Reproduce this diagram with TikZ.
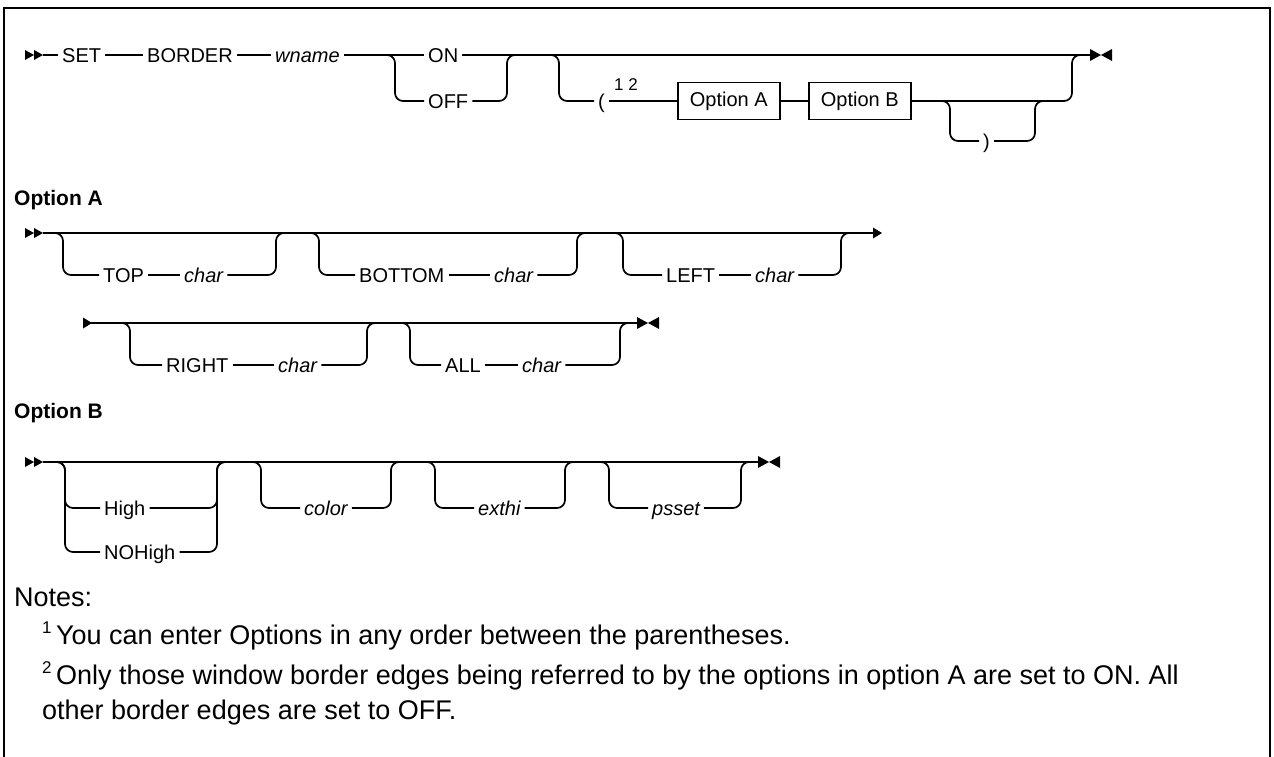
\documentclass[tikz,border=0pt]{standalone}
\usepackage{fontspec}
\setmainfont{Liberation Sans}
\tikzset{
  startmark/.pic={\fill (0,-5) -- (9,0) -- (0,5) -- cycle; \fill (9,-5) -- (18,0) -- (9,5) -- cycle;},
  contmark/.pic={\fill (0,-5.5) -- (9,0) -- (0,5.5) -- cycle;},
  endmark/.pic={\fill (0,-6) -- (11,0) -- (0,6) -- cycle; \fill (22,-6) -- (11,0) -- (22,6) -- cycle;},
}
\begin{document}
\begin{tikzpicture}[x=1pt,y=-1pt,
  ln/.style={line width=1.7pt},
  rr/.style={line width=1.7pt, rounded corners=8pt},
  lbl/.style={inner xsep=4pt, inner ysep=0pt, text height=14.5pt, text depth=0pt, anchor=west, font=\fontsize{20}{22}\selectfont},
  var/.style={lbl, font=\fontsize{20}{22}\selectfont\itshape},
  box/.style={draw, line width=1.6pt, anchor=west, minimum width=102pt, minimum height=37pt, inner sep=0pt, font=\fontsize{20}{22}\selectfont},
  head/.style={anchor=west, inner sep=0pt, font=\fontsize{21}{24}\selectfont\bfseries},
  note/.style={anchor=west, inner sep=0pt, font=\fontsize{27}{30}\selectfont},
  sup/.style={anchor=west, inner sep=0pt, font=\fontsize{17}{18}\selectfont},
]
\useasboundingbox (0,0) rectangle (1274,757);
\fill[white] (0,0) rectangle (1274,757);
% frame
\coordinate (fa) at (4,757); \coordinate (fb) at (4,8);
\coordinate (fc) at (1270,8); \coordinate (fd) at (1270,757);
\draw[line width=2.5pt] (fa) -- (fb) -- (fc) -- (fd);

% ---------------- Row 1 ----------------
\pic at (25,55) {startmark};
\coordinate (s1) at (43,55);
\node[lbl] (set) at (58,55) {SET};
\node[lbl] (border) at (143,55) {BORDER};
\node[var] (wname) at (271,55) {wname};
\node[lbl] (on) at (424,55) {ON};
\node[lbl] (off) at (424,101) {OFF};
\node[lbl] (lpar) at (594,101) {(};
\node[sup] (fn12) at (614,85) {1 2};
\node[box] (optA) at (677,101) {Option A};
\node[box] (optB) at (808,101) {Option B};
\node[lbl] (rpar) at (979,141) {)};
\coordinate (e1) at (1090,55);
\pic at (e1) {endmark};

\draw[ln] (s1) -- (set.west);
\draw[ln] (set.east) -- (border.west);
\draw[ln] (border.east) -- (wname.west);
\draw[ln] (wname.east) -- (on.west);
\draw[ln] (on.east) -- (e1);
\coordinate (c1a) at (381,55); \coordinate (c1b) at (395,101);
\coordinate (c1c) at (507,101); \coordinate (c1d) at (521,55);
\draw[rr] (c1a) -| (c1b) -- (off.west);
\draw[rr] (off.east) -- (c1c) |- (c1d);
\coordinate (c2a) at (545,55); \coordinate (c2b) at (559,101);
\coordinate (c2c) at (1072,101); \coordinate (c2d) at (1086,55);
\draw[rr] (c2a) -| (c2b) -- (lpar.west);
\draw[ln] (lpar.east) -- (optA.west);
\draw[ln] (optA.east) -- (optB.west);
\draw[rr] (optB.east) -- (c2c) |- (c2d);
\coordinate (c3a) at (936,101); \coordinate (c3b) at (950,141);
\coordinate (c3c) at (1035,141); \coordinate (c3d) at (1049,101);
\draw[rr] (c3a) -| (c3b) -- (rpar.west);
\draw[rr] (rpar.east) -- (c3c) |- (c3d);

% ---------------- Option A ----------------
\node[head] (hA) at (14,200) {Option A};
\pic at (25,233) {startmark};
\coordinate (s2) at (43,233);
\coordinate (e2) at (873,233);
\pic at (e2) {contmark};
\draw[ln] (s2) -- (e2);
% TOP
\node[lbl] (top) at (99,275) {TOP};
\node[var] (ch1) at (180,275) {char};
\coordinate (a1) at (49,233); \coordinate (a2) at (63,275);
\coordinate (a3) at (276,275); \coordinate (a4) at (290,233);
\draw[rr] (a1) -| (a2) -- (top.west);
\draw[ln] (top.east) -- (ch1.west);
\draw[rr] (ch1.east) -- (a3) |- (a4);
% BOTTOM
\node[lbl] (bottom) at (355,275) {BOTTOM};
\node[var] (ch2) at (490,275) {char};
\coordinate (b1) at (305,233); \coordinate (b2) at (319,275);
\coordinate (b3) at (577,275); \coordinate (b4) at (591,233);
\draw[rr] (b1) -| (b2) -- (bottom.west);
\draw[ln] (bottom.east) -- (ch2.west);
\draw[rr] (ch2.east) -- (b3) |- (b4);
% LEFT
\node[lbl] (left) at (662,275) {LEFT};
\node[var] (ch3) at (751,275) {char};
\coordinate (d1) at (609,233); \coordinate (d2) at (623,275);
\coordinate (d3) at (841,275); \coordinate (d4) at (855,233);
\draw[rr] (d1) -| (d2) -- (left.west);
\draw[ln] (left.east) -- (ch3.west);
\draw[rr] (ch3.east) -- (d3) |- (d4);

% row 2
\coordinate (s3) at (83,323);
\pic at (s3) {contmark};
\coordinate (e3) at (637,323);
\pic at (e3) {endmark};
\draw[ln] (s3) -- (e3);
% RIGHT
\node[lbl] (right) at (162,365) {RIGHT};
\node[var] (ch4) at (274,365) {char};
\coordinate (f1) at (116,323); \coordinate (f2) at (130,365);
\coordinate (f3) at (367,365); \coordinate (f4) at (381,323);
\draw[rr] (f1) -| (f2) -- (right.west);
\draw[ln] (right.east) -- (ch4.west);
\draw[rr] (ch4.east) -- (f3) |- (f4);
% ALL
\node[lbl] (all) at (441,365) {ALL};
\node[var] (ch5) at (518,365) {char};
\coordinate (g1) at (396,323); \coordinate (g2) at (410,365);
\coordinate (g3) at (620,365); \coordinate (g4) at (634,323);
\draw[rr] (g1) -| (g2) -- (all.west);
\draw[ln] (all.east) -- (ch5.west);
\draw[rr] (ch5.east) -- (g3) |- (g4);

% ---------------- Option B ----------------
\node[head] (hB) at (14,413) {Option B};
\pic at (25,462) {startmark};
\coordinate (s4) at (43,462);
\coordinate (e4) at (758,462);
\pic at (e4) {endmark};
\draw[ln] (s4) -- (e4);
% High / NOHigh
\node[lbl] (high) at (100,508) {High};
\node[lbl] (nohigh) at (100,552) {NOHigh};
\coordinate (h1) at (51,462); \coordinate (h2) at (65,508); \coordinate (h2b) at (65,552);
\coordinate (h3) at (217,508); \coordinate (h3b) at (217,552); \coordinate (h4) at (231,462);
\draw[rr] (h1) -| (h2) -- (high.west);
\draw[rr] (h1) -| (h2b) -- (nohigh.west);
\draw[rr] (high.east) -- (h3) |- (h4);
\draw[rr] (nohigh.east) -- (h3b) |- (h4);
% color
\node[var] (color) at (300,508) {color};
\coordinate (k1) at (247,462); \coordinate (k2) at (261,508);
\coordinate (k3) at (391,508); \coordinate (k4) at (405,462);
\draw[rr] (k1) -| (k2) -- (color.west);
\draw[rr] (color.east) -- (k3) |- (k4);
% exthi
\node[var] (exthi) at (474,508) {exthi};
\coordinate (m1) at (421,462); \coordinate (m2) at (435,508);
\coordinate (m3) at (565,508); \coordinate (m4) at (579,462);
\draw[rr] (m1) -| (m2) -- (exthi.west);
\draw[rr] (exthi.east) -- (m3) |- (m4);
% psset
\node[var] (psset) at (648,508) {psset};
\coordinate (p1) at (595,462); \coordinate (p2) at (609,508);
\coordinate (p3) at (741,508); \coordinate (p4) at (755,462);
\draw[rr] (p1) -| (p2) -- (psset.west);
\draw[rr] (psset.east) -- (p3) |- (p4);

% ---------------- Notes ----------------
\node[note] (notes) at (14,597) {Notes:};
\node[note] (n1) at (42,636) {\raisebox{0.42em}{\fontsize{17}{18}\selectfont 1}\,You can enter Options in any order between the parentheses.};
\node[note] (n2) at (42,676) {\raisebox{0.42em}{\fontsize{17}{18}\selectfont 2}\,Only those window border edges being referred to by the options in option A are set to ON. All};
\node[note] (n3) at (42,713) {other border edges are set to OFF.};
\end{tikzpicture}
\end{document}
